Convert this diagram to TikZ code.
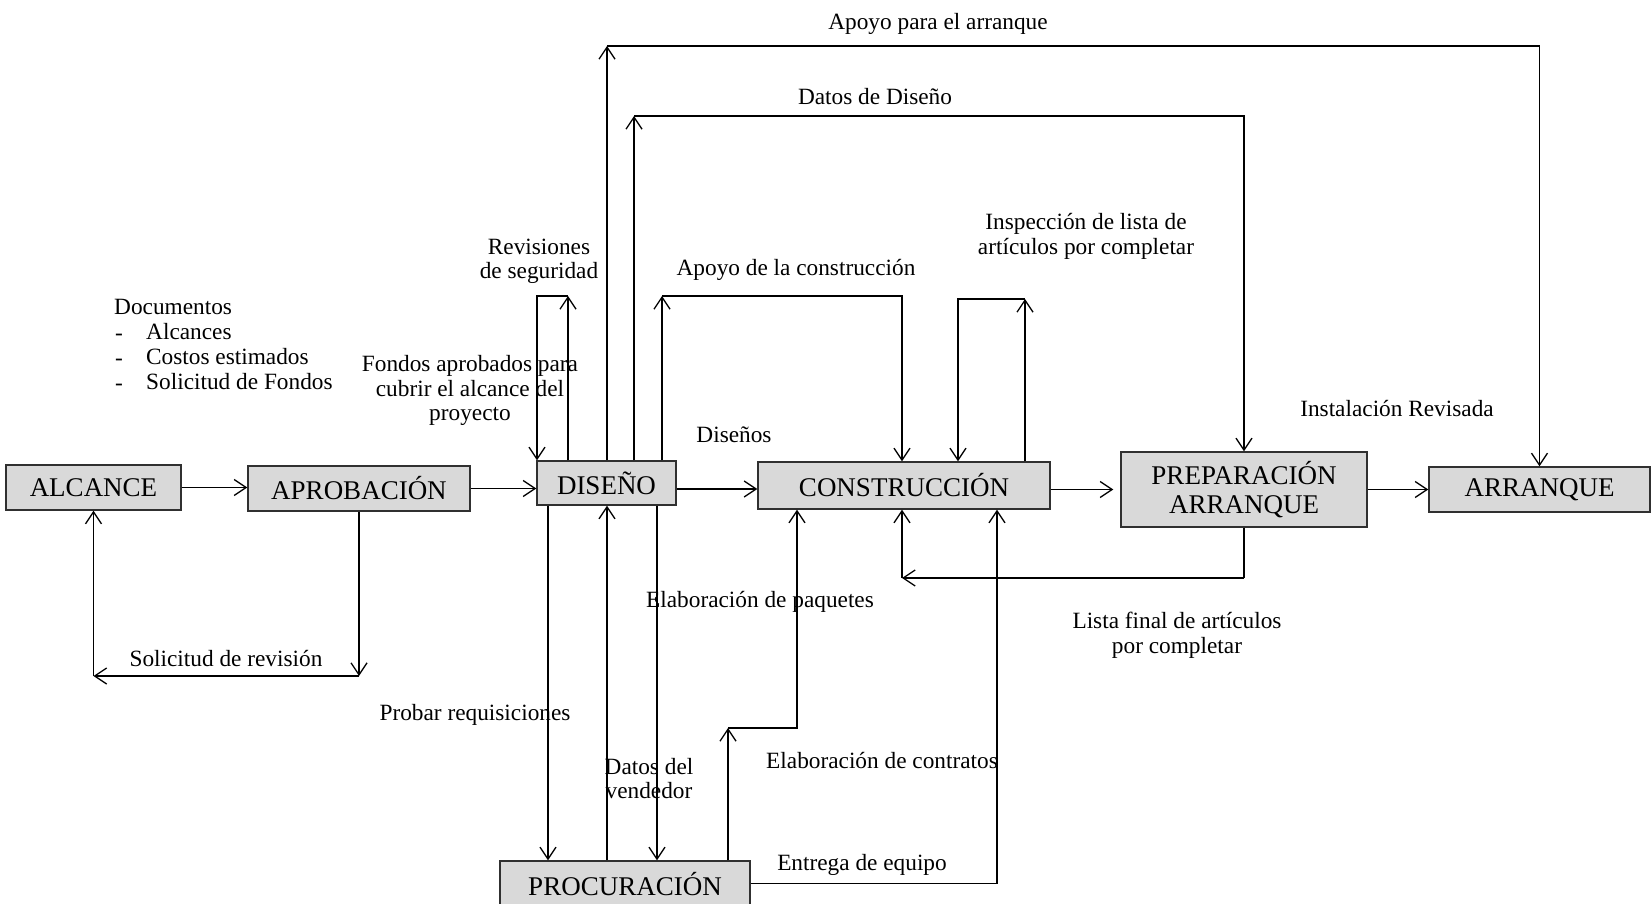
\documentclass[tikz,border=0pt]{standalone}
\usepackage{fontspec}
\setmainfont{Liberation Serif}
\usetikzlibrary{arrows.meta}
\definecolor{boxgray}{HTML}{D9D9D9}
\definecolor{edge}{HTML}{303030}
\begin{document}
\begin{tikzpicture}[x=1pt,y=-1pt,
  box/.style={draw=edge, line width=1.4pt, fill=boxgray, minimum height=45pt,
    inner sep=0pt, font=\fontsize{27}{29.5}\selectfont, align=center},
  lbl/.style={font=\fontsize{23.3}{24.5}\selectfont, align=center, inner sep=0pt, yshift=-2.5pt},
  arr/.style={-{Straight Barb[length=12pt,width=16pt,line width=1.3pt]}, line width=1.3pt},
  ln/.style={line width=1.3pt}]
\useasboundingbox (0,0) rectangle (1651,904);

% process boxes
\node[box, minimum width=175pt] (alc) at (93.5,487.5) {ALCANCE};
\node[box, minimum width=222pt] (apr) at (359,488.5) {APROBACIÓN};
\node[box, minimum width=139pt, minimum height=44pt] (dis) at (606.5,483) {DISEÑO};
\node[box, minimum width=292pt, minimum height=47pt] (con) at (904,485.5) {CONSTRUCCIÓN};
\node[box, minimum width=246pt, minimum height=75pt] (pre) at (1244,489.5) {PREPARACIÓN\\ARRANQUE};
\node[box, minimum width=221pt] (arq) at (1539.5,489.5) {ARRANQUE};
\node[box, minimum width=250pt, minimum height=46pt] (pro) at (625,884) {PROCURACIÓN};

% main sequence
\draw[arr] (alc.east) -- (alc.east -| apr.west);
\draw[arr] (apr.east) -- (apr.east -| dis.west);
\draw[arr] (dis.east |- 0,489) -- (con.west |- 0,489);
\draw[arr] (pre.west -| con.east) -- ([xshift=-7pt]pre.west);
\draw[arr] (pre.east) -- (pre.east -| arq.west);

% review request loop
\coordinate (r1) at (359,676);
\coordinate (r2) at (93.5,676);
\draw[arr] (apr.south) -- (r1);
\draw[arr] (r1) -- (r2);
\draw[arr] (r2) -- (alc.south);

% safety reviews loop
\coordinate (s1) at (568,296);
\coordinate (s2) at (537,296);
\draw[arr] (s1 |- dis.north) -- (s1);
\draw[arr] (s1) -- (s2) -- (s2 |- dis.north);

% start-up support
\coordinate (a1) at (607,46);
\coordinate (a2) at (1539.5,46);
\draw[arr] (a1 |- dis.north) -- (a1);
\draw[arr] (a1) -- (a2) -- (arq.north);

% design data
\coordinate (d1) at (634,116);
\coordinate (d2) at (1244,116);
\draw[arr] (d1 |- dis.north) -- (d1);
\draw[arr] (d1) -- (d2) -- (pre.north);

% construction support
\coordinate (c1) at (662,296);
\coordinate (c2) at (902,296);
\draw[arr] (c1 |- dis.north) -- (c1);
\draw[arr] (c1) -- (c2) -- (c2 |- con.north);

% punch-list inspection loop
\coordinate (i1) at (1025,299);
\coordinate (i2) at (958,299);
\draw[arr] (i1 |- con.north) -- (i1);
\draw[arr] (i1) -- (i2) -- (i2 |- con.north);

% final punch list
\coordinate (f1) at (1244,578);
\coordinate (f2) at (902,578);
\draw[ln] (pre.south) -- (f1);
\draw[arr] (f1) -- (f2);
\draw[arr] (f2) -- (f2 |- con.south);

% design <-> procurement
\coordinate (p1) at (548,700);
\coordinate (p2) at (607,700);
\coordinate (p3) at (657,700);
\draw[arr] (p1 |- dis.south) -- (p1 |- pro.north);
\draw[arr] (p2 |- pro.north) -- (p2 |- dis.south);
\draw[arr] (p3 |- dis.south) -- (p3 |- pro.north);

% contracts to construction
\coordinate (k1) at (728,728);
\coordinate (k2) at (797,728);
\draw[arr] (k1 |- pro.north) -- (k1);
\draw[arr] (k1) -- (k2) -- (k2 |- con.south);

% equipment delivery
\coordinate (e1) at (997,883.5);
\draw[arr] (pro.east |- e1) -- (e1) -- (e1 |- con.south);

% labels
\node[lbl] (t1) at (938,21) {Apoyo para el arranque};
\node[lbl] (t2) at (875,94) {Datos de Diseño};
\node[lbl] (t3) at (539,259) {Revisiones\\de seguridad};
\node[lbl] (t4) at (796,267) {Apoyo de la construcción};
\node[lbl] (t5) at (1086,234) {Inspección de lista de\\artículos por completar};
\node[lbl, anchor=west] (t6) at (114,304) {Documentos};
\node[lbl, anchor=west] (t6a) at (115,335) {-};
\node[lbl, anchor=west] (t6b) at (115,360) {-};
\node[lbl, anchor=west] (t6c) at (115,385) {-};
\node[lbl, anchor=west] (t7a) at (146,329) {Alcances};
\node[lbl, anchor=west] (t7b) at (146,354) {Costos estimados};
\node[lbl, anchor=west] (t7c) at (146,379) {Solicitud de Fondos};
\node[lbl] (t8) at (470,388) {Fondos aprobados para\\cubrir el alcance del\\proyecto};
\node[lbl] (t9) at (734,432) {Diseños};
\node[lbl] (t10) at (1397,406) {Instalación Revisada};
\node[lbl] (t11) at (760,599) {Elaboración de paquetes};
\node[lbl] (t12) at (475,712) {Probar requisiciones};
\node[lbl] (t13) at (649,776) {Datos del\\vendedor};
\node[lbl] (t14) at (882,758) {Elaboración de contratos};
\node[lbl] (t15) at (862,862) {Entrega de equipo};
\node[lbl] (t16) at (226,656) {Solicitud de revisión};
\node[lbl] (t17) at (1177,633) {Lista final de artículos\\por completar};
\end{tikzpicture}
\end{document}
